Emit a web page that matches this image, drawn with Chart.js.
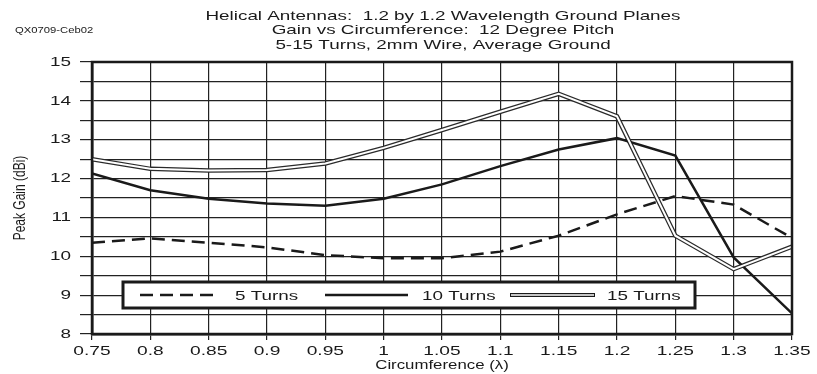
<!DOCTYPE html>
<html>
<head>
<meta charset="utf-8">
<script src="https://cdn.jsdelivr.net/npm/chart.js@4/dist/chart.umd.min.js"></script>
<style>
  html, body { margin: 0; padding: 0; background: #fff; }
  #wrap { width: 817px; height: 374px; }
</style>
</head>
<body>
<div id="wrap"><canvas id="gainChart" width="817" height="374"></canvas></div>
<script>
const circumference = [0.75, 0.8, 0.85, 0.9, 0.95, 1.0, 1.05, 1.1, 1.15, 1.2, 1.25, 1.3, 1.35];
const turns5  = [10.35, 10.46, 10.35, 10.23, 10.03, 9.95, 9.95, 10.12, 10.53, 11.08, 11.55, 11.33, 10.47];
const turns10 = [12.13, 11.7, 11.48, 11.36, 11.3, 11.48, 11.85, 12.32, 12.75, 13.04, 12.59, 9.97, 8.53];
const turns15 = [12.5, 12.25, 12.21, 12.22, 12.39, 12.79, 13.25, 13.72, 14.18, 13.6, 10.53, 9.67, 10.25];
const titleLines = [
    'Helical Antennas:  1.2 by 1.2 Wavelength Ground Planes',
    'Gain vs Circumference:  12 Degree Pitch',
    '5-15 Turns, 2mm Wire, Average Ground'
];
const figureId = 'QX0709-Ceb02';
const xTitle = 'Circumference (λ)';
const yTitle = 'Peak Gain (dBi)';

const toPoints = values => values.map((v, i) => ({ x: circumference[i], y: v }));
const ink = '#1a1a1a';
const fontName = '"Liberation Sans", Arial, sans-serif';
const stretch = 1.45; // the original print is widened horizontally

// draw text widened along the screen x direction
function wideText(ctx, text, x, y, size, align, sx, rotated) {
    ctx.save();
    ctx.translate(x, y);
    ctx.scale(sx, 1);
    if (rotated) ctx.rotate(-Math.PI / 2);
    ctx.font = size + 'px ' + fontName;
    ctx.textAlign = align;
    ctx.textBaseline = 'middle';
    ctx.fillStyle = ink;
    ctx.fillText(text, 0, 0);
    ctx.restore();
}

const fmt = v => parseFloat(v.toFixed(2)).toString();

// titles, tick labels, frame and the boxed legend inside the plot
const decorations = {
    id: 'decorations',
    afterDraw(chart) {
        const ctx = chart.ctx;
        const area = chart.chartArea;
        const xs = chart.scales.x, ys = chart.scales.y;

        titleLines.forEach((line, i) => wideText(ctx, line, 443, 16 + i * 14.5, 13, 'center', stretch));
        wideText(ctx, figureId, 15, 31, 9, 'left', 1.25);

        xs.ticks.forEach(t => wideText(ctx, fmt(t.value), xs.getPixelForValue(t.value), 351, 13.5, 'center', 1.42));
        ys.ticks.filter(t => Number.isInteger(t.value))
            .forEach(t => wideText(ctx, String(t.value), 71, ys.getPixelForValue(t.value), 13.5, 'right', 1.4));
        wideText(ctx, xTitle, 442, 366, 12, 'center', 1.4);
        wideText(ctx, yTitle, 21, 198, 12, 'center', 1.3, true);

        ctx.save();
        // heavy frame
        ctx.strokeStyle = ink;
        ctx.lineWidth = 2.5;
        ctx.strokeRect(area.left, area.top, area.right - area.left, area.bottom - area.top);

        // legend box
        const bx = 123, by = 282, bw = 572, bh = 26;
        ctx.fillStyle = '#fff';
        ctx.fillRect(bx, by, bw, bh);
        ctx.lineWidth = 3;
        ctx.strokeRect(bx, by, bw, bh);
        const cy = by + bh / 2;
        const entries = [
            { x1: 140, x2: 220, tx: 235, label: chart.data.datasets[0].label, kind: 'dash' },
            { x1: 325, x2: 408, tx: 422, label: chart.data.datasets[1].label, kind: 'solid' },
            { x1: 510, x2: 595, tx: 607, label: chart.data.datasets[2].label, kind: 'double' }
        ];
        entries.forEach(e => {
            ctx.beginPath();
            ctx.moveTo(e.x1, cy);
            ctx.lineTo(e.x2, cy);
            ctx.strokeStyle = ink;
            ctx.setLineDash(e.kind === 'dash' ? [13, 7] : []);
            ctx.lineWidth = e.kind === 'double' ? 4 : 2.5;
            ctx.stroke();
            if (e.kind === 'double') {
                ctx.beginPath();
                ctx.moveTo(e.x1 + 1, cy);
                ctx.lineTo(e.x2 - 1, cy);
                ctx.strokeStyle = '#fff';
                ctx.lineWidth = 1.6;
                ctx.stroke();
            }
            ctx.setLineDash([]);
            wideText(ctx, e.label, e.tx, cy + 1, 13, 'left', stretch);
        });
        ctx.restore();
    }
};

new Chart(document.getElementById('gainChart').getContext('2d'), {
    type: 'line',
    data: {
        datasets: [
            {
                label: '5 Turns',
                data: toPoints(turns5),
                borderColor: ink,
                borderWidth: 2.5,
                borderDash: [13, 7],
                pointRadius: 0,
                tension: 0,
                order: 1
            },
            {
                label: '10 Turns',
                data: toPoints(turns10),
                borderColor: ink,
                borderWidth: 2.5,
                pointRadius: 0,
                tension: 0,
                order: 1
            },
            {
                label: '15 Turns',
                data: toPoints(turns15),
                borderColor: '#2a2a2a',
                borderWidth: 4.5,
                pointRadius: 0,
                tension: 0,
                order: 1
            },
            {
                // white core of the double line
                label: '',
                data: toPoints(turns15),
                borderColor: '#fff',
                borderWidth: 2,
                pointRadius: 0,
                tension: 0,
                order: 0
            }
        ]
    },
    options: {
        responsive: false,
        animation: false,
        layout: { padding: { top: 62, left: 0, right: 25, bottom: 0 } },
        plugins: {
            legend: { display: false },
            tooltip: { enabled: false }
        },
        scales: {
            x: {
                type: 'linear',
                min: 0.75,
                max: 1.35,
                afterFit: scale => { scale.height = 40; },
                ticks: { stepSize: 0.05, display: false, autoSkip: false },
                grid: { color: '#222', lineWidth: 1.2, tickLength: 6 },
                border: { color: ink, width: 2.5 }
            },
            y: {
                min: 8,
                max: 15,
                afterFit: scale => { scale.width = 92; },
                ticks: { stepSize: 0.5, display: false, autoSkip: false },
                grid: { color: '#222', lineWidth: 1.2, tickLength: 12 },
                border: { color: ink, width: 2.5 }
            }
        }
    },
    plugins: [decorations]
});
</script>
</body>
</html>
